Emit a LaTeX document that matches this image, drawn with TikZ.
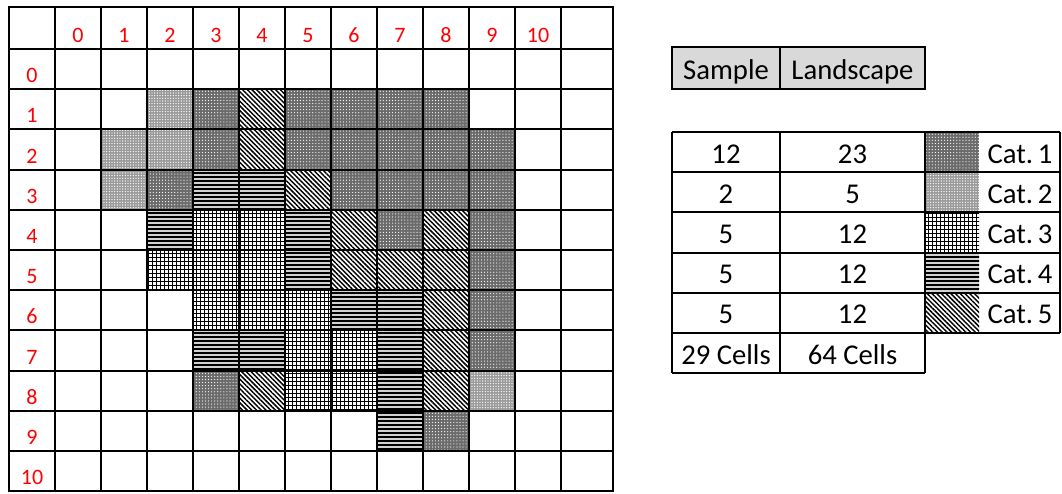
\documentclass[tikz,border=0pt]{standalone}
\usepackage{fontspec}
\setmainfont{Carlito}
\usetikzlibrary{patterns.meta}

\begin{document}
\begin{tikzpicture}[x=0.75pt,y=-0.75pt,
  gridline/.style={line width=1.5pt},
  axislabel/.style={red,font=\fontsize{16.5}{20}\selectfont,anchor=base},
  tabletext/.style={font=\fontsize{21.5}{26}\selectfont,anchor=base},
  catone/.style={fill=black!58,postaction={pattern={Dots[distance=2.3pt,radius=0.45pt]},pattern color=white}},
  cattwo/.style={fill=black!40,postaction={pattern={Dots[distance=2pt,radius=0.55pt]},pattern color=white}},
  catthree/.style={fill=white,postaction={pattern={Hatch[angle=0,distance=3pt,line width=0.6pt]},pattern color=black}},
  catfour/.style={fill=black!18,postaction={pattern={Lines[distance=3pt,line width=1.1pt]},pattern color=black}},
  catfive/.style={fill=white,postaction={pattern={Lines[angle=-45,distance=2.5pt,line width=1.1pt]},pattern color=black}}]
\useasboundingbox (0,0) rectangle (1062,493);

% landscape cells, column/row
\foreach \c/\r in {3/1,5/1,6/1,7/1,8/1,3/2,5/2,6/2,7/2,8/2,9/2,2/3,6/3,7/3,8/3,9/3,
  7/4,9/4,9/5,9/6,9/7,3/8,8/9}
  \path[catone] (55+46*\c,49+40.2*\r) rectangle ++(46,40.2);
\foreach \c/\r in {2/1,1/2,2/2,1/3,9/8}
  \path[cattwo] (55+46*\c,49+40.2*\r) rectangle ++(46,40.2);
\foreach \c/\r in {3/4,4/4,2/5,3/5,4/5,3/6,4/6,5/6,5/7,6/7,5/8,6/8}
  \path[catthree] (55+46*\c,49+40.2*\r) rectangle ++(46,40.2);
\foreach \c/\r in {3/3,4/3,2/4,5/4,5/5,6/6,7/6,3/7,4/7,7/7,7/8,7/9}
  \path[catfour] (55+46*\c,49+40.2*\r) rectangle ++(46,40.2);
\foreach \c/\r in {4/1,4/2,5/3,6/4,8/4,6/5,7/5,8/5,8/6,8/7,4/8,8/8}
  \path[catfive] (55+46*\c,49+40.2*\r) rectangle ++(46,40.2);

% grid
\draw[gridline] (9,7) rectangle (613,491.2);
\foreach \x in {55,101,...,561}
  \draw[gridline] (\x,7) -- (\x,491.2);
\foreach \r in {0,...,10}
  \draw[gridline] (9,49+40.2*\r) -- (613,49+40.2*\r);
\foreach \c in {0,...,10}{\node[axislabel] (top\c) at (78+46*\c,42.5) {\c};}
\foreach \r in {0,...,10}{\node[axislabel] (side\r) at (32,82.7+40.2*\r) {\r};}

% header
\fill[black!15] (672,47) rectangle (925,89);
\draw[gridline] (672,47) rectangle (925,89);
\draw[gridline] (780,47) -- (780,89);
\node[tabletext] (sample) at (726,79) {Sample};
\node[tabletext] (landscape) at (852.5,79) {Landscape};

% counts and legend
\path[catone] (925,132) rectangle ++(54,40.2);
\path[cattwo] (925,172.2) rectangle ++(54,40.2);
\path[catthree] (925,212.4) rectangle ++(54,40.2);
\path[catfour] (925,252.6) rectangle ++(54,40.2);
\path[catfive] (925,292.8) rectangle ++(54,40.2);
\foreach \s/\l/\k [count=\i from 0] in {12/23/1,2/5/2,5/12/3,5/12/4,5/12/5}{
  \node[tabletext] (samp\k) at (726,163+40.2*\i) {\s};
  \node[tabletext] (land\k) at (852.5,163+40.2*\i) {\l};
  \node[tabletext] (cat\k) at (1020,163+40.2*\i) {Cat.\,\k};}
\node[tabletext] (samptotal) at (726,364) {29 Cells};
\node[tabletext] (landtotal) at (852.5,364) {64 Cells};
\foreach \i in {0,...,5}
  \draw[gridline] (672,132+40.2*\i) -- (1060,132+40.2*\i);
\draw[gridline] (672,373) -- (925,373);
\foreach \x in {672,780,925}
  \draw[gridline] (\x,132) -- (\x,373);
\draw[gridline] (1060,132) -- (1060,333);
\end{tikzpicture}
\end{document}
